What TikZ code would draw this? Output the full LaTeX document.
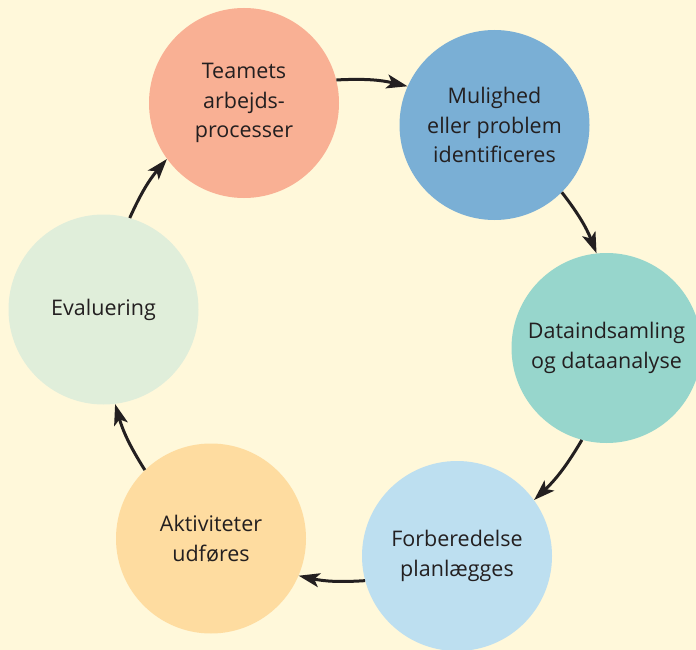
\documentclass[tikz,border=0pt]{standalone}
\usepackage{fontspec}
\setmainfont{Open Sans}
\usetikzlibrary{arrows.meta}

\definecolor{paper}{RGB}{255,248,218}
\definecolor{ink}{RGB}{35,31,32}
\definecolor{salmon}{RGB}{249,176,148}
\definecolor{midblue}{RGB}{122,175,213}
\definecolor{teal}{RGB}{151,214,204}
\definecolor{skyblue}{RGB}{189,223,240}
\definecolor{apricot}{RGB}{254,220,160}
\definecolor{mint}{RGB}{224,238,218}

\tikzset{
  stage/.style={circle, minimum size=190pt, inner sep=0pt, draw=none,
    align=center, text=ink,
    font=\fontsize{21.5pt}{29.5pt}\selectfont},
  cyclearrow/.style={draw=ink, line width=3pt,
    -{Stealth[length=21pt, width=14pt, inset=5pt]}, bend left=8.1},
}

\begin{document}
\begin{tikzpicture}[x=1pt, y=-1pt]
  \fill[paper] (0,0) rectangle (696,650);
  \useasboundingbox (0,0) rectangle (696,650);

  % the six stages of the cycle
  \node[stage, fill=salmon]  (t) at (244,103)   {Teamets\\arbejds-\\processer};
  \node[stage, fill=midblue] (m) at (494.5,125) {Mulighed\\eller problem\\identificeres};
  \node[stage, fill=teal]    (d) at (606.5,348) {Dataindsamling\\og dataanalyse};
  \node[stage, fill=skyblue] (f) at (457,556)   {Forberedelse\\planlægges};
  \node[stage, fill=apricot] (a) at (211,538.5) {Aktiviteter\\udføres};
  \node[stage, fill=mint]    (e) at (103.5,309.5) {Evaluering};

  % clockwise arrows between neighbouring stages
  \draw[cyclearrow] (t.14.55)   to (m.156.45);
  \draw[cyclearrow] (m.-45.45)  to (d.96.45);
  \draw[cyclearrow] (d.-105.45) to (f.36.45);
  \draw[cyclearrow] (f.-165.45) to (a.-23.55);
  \draw[cyclearrow] (a.134.55)  to (e.-83.55);
  \draw[cyclearrow] (e.74.55)   to (t.216.45);
\end{tikzpicture}
\end{document}
